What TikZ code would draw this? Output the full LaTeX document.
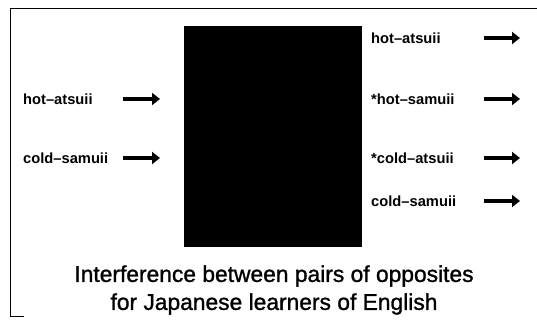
\documentclass[tikz,border=0pt]{standalone}
\usepackage{fontspec}
\setmainfont{Liberation Sans}
\newfontfamily\capfont[FakeBold=1.2]{Liberation Sans}
\usetikzlibrary{arrows.meta}
\begin{document}
\begin{tikzpicture}[x=1pt,y=-1pt,
  lbl/.style={anchor=west,inner sep=0pt,font=\bfseries\fontsize{14.7}{16}\selectfont},
  arr/.style={line width=3.4pt,-{Triangle[length=8pt,width=12pt]}},
  captext/.style={inner sep=0pt,font=\capfont\fontsize{22.8}{26}\selectfont}]
\useasboundingbox (0,0) rectangle (537,320);
\draw[line width=1.8pt] (10.5,8.5) -- (537,8.5);
\draw[line width=1.6pt] (10.5,8.5) -- (10.5,316.5) -- (24,316.5);
\fill (184,26) rectangle (362,247);
% left
\node[lbl] (l1) at (23,99) {hot–atsuii};
\node[lbl] (l2) at (23,158) {cold–samuii};
\coordinate (l1s) at (123,99); \coordinate (l1e) at (160,99);
\coordinate (l2s) at (123,158); \coordinate (l2e) at (160,158);
\draw[arr] (l1s) -- (l1e);
\draw[arr] (l2s) -- (l2e);
% right
\node[lbl] (r1) at (371,38) {hot–atsuii};
\node[lbl] (r2) at (371,99) {*hot–samuii};
\node[lbl] (r3) at (371,158) {*cold–atsuii};
\node[lbl] (r4) at (371,201) {cold–samuii};
\foreach \y/\n in {38/1,99/2,158/3,201/4}{
  \coordinate (r\n s) at (484,\y); \coordinate (r\n e) at (520,\y);
  \draw[arr] (r\n s) -- (r\n e);
}
\node[captext] (c1) at (274,276) {Interference between pairs of opposites};
\node[captext] (c2) at (274,304) {for Japanese learners of English};
\end{tikzpicture}
\end{document}
